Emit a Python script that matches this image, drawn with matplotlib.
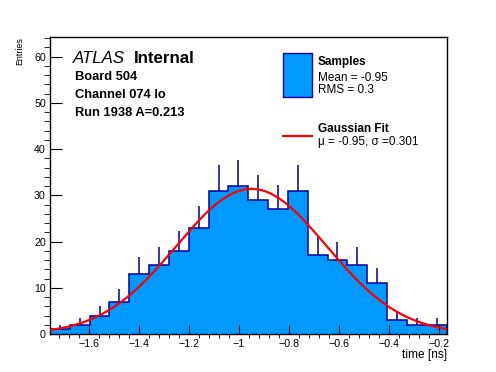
import numpy as np
import matplotlib.pyplot as plt
from matplotlib.patches import Rectangle
from matplotlib.lines import Line2D
from matplotlib.ticker import MultipleLocator

plt.rcParams['font.family'] = ['Liberation Sans', 'DejaVu Sans']

# histogram of the timing samples
x_lo, x_hi = -1.758, -0.168
counts = np.array([1, 2, 4, 7, 13, 15, 18, 23, 31, 32,
                   29, 27, 31, 17, 16, 15, 11, 3, 2, 2])
edges = np.linspace(x_lo, x_hi, len(counts) + 1)

# gaussian fit parameters
fit_mu = -0.95
fit_sigma = 0.301
fit_amp = 31.4

board_lines = ['Board 504', 'Channel 074 lo', 'Run 1938 A=0.213']

fill_col = '#0099ff'
line_col = '#000099'

W, H = 496, 372
fig = plt.figure(figsize=(W / 100, H / 100), dpi=100)
ax = fig.add_axes([50 / W, 1 - 334 / H, (446.5 - 50) / W, (334 - 37.3) / H])

ax.stairs(counts, edges, fill=True, color=fill_col, zorder=1)
ax.stairs(counts, edges, color=line_col, lw=1.1, zorder=2)
centers = 0.5 * (edges[:-1] + edges[1:])
ax.vlines(centers, counts, counts + np.sqrt(counts), color=line_col, lw=1.1, zorder=2)

xf = np.linspace(x_lo, x_hi, 400)
yf = fit_amp * np.exp(-0.5 * ((xf - fit_mu) / fit_sigma) ** 2)
ax.plot(xf, yf, color='red', lw=1.6, zorder=3)

ax.set_xlim(x_lo, x_hi)
ax.set_ylim(0, 64.2)
ax.xaxis.set_major_locator(MultipleLocator(0.2))
ax.xaxis.set_minor_locator(MultipleLocator(0.04))
ax.yaxis.set_major_locator(MultipleLocator(10))
ax.yaxis.set_minor_locator(MultipleLocator(2))
ax.tick_params(direction='in', labelsize=7.7, top=False, right=False)
ax.tick_params(axis='x', which='major', length=6.5, pad=3.5)
ax.tick_params(axis='x', which='minor', length=3.2, top=False)
ax.tick_params(axis='y', which='major', length=8.6, pad=3)
ax.tick_params(axis='y', which='minor', length=4.3, right=False)
ax.xaxis.set_major_formatter(plt.FuncFormatter(lambda v, p: ('%g' % round(v, 2)).replace('-', '\u2212')))
for s in ax.spines.values():
    s.set_linewidth(1.0)

def px(x, y):
    return x / W, 1 - y / H

fig.text(*px(20, 37), 'Entries', rotation=90, ha='center', va='top', fontsize=6.4)
fig.text(*px(446.7, 349), 'time [ns]', ha='right', va='top', fontsize=8.6)

fig.text(*px(73.3, 62.7), 'ATLAS', style='italic', fontsize=12.2, va='baseline')
fig.text(*px(134, 62.7), 'Internal', weight='bold', fontsize=12.2, va='baseline')
for i, t in enumerate(board_lines):
    fig.text(*px(75, 80 + 17.8 * i), t, weight='bold', fontsize=9.3, va='baseline')

# legend
fig.patches.append(Rectangle(px(283.3, 96.7), 28.4 / W, 43.4 / H, transform=fig.transFigure,
                             facecolor=fill_col, edgecolor=line_col, lw=1.0))
fig.text(*px(317.7, 65), 'Samples', weight='bold', fontsize=8.5, va='baseline')
fig.text(*px(317.7, 80.7), 'Mean = -0.95', fontsize=8.5, va='baseline')
fig.text(*px(317.7, 93.3), 'RMS = 0.3', fontsize=8.5, va='baseline')
fig.lines.append(Line2D([283.3 / W, 311.7 / W], [1 - 136 / H] * 2, transform=fig.transFigure,
                        color='red', lw=1.6))
fig.text(*px(317.7, 132.3), 'Gaussian Fit', weight='bold', fontsize=8.5, va='baseline')
fig.text(*px(317.7, 145), '\u03bc = -0.95, \u03c3 =0.301', fontsize=8.5, va='baseline')

fig.savefig('out.png', dpi=100)
